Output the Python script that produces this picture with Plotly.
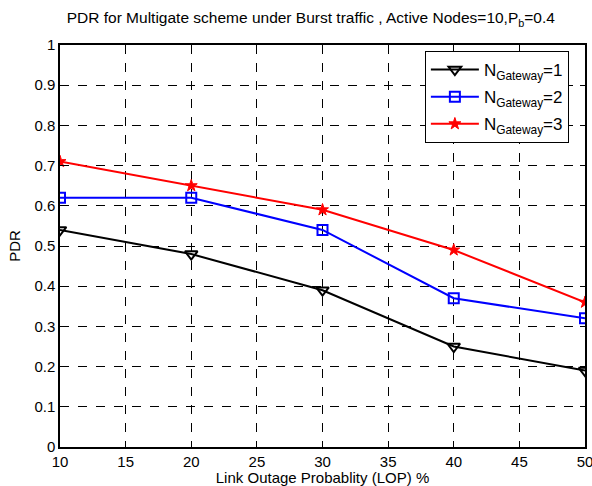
import plotly.graph_objects as go

# Link outage probability (%) and packet delivery ratio per gateway count
lop = [10, 20, 30, 40, 50]
pdr_gw1 = [0.54, 0.48, 0.39, 0.25, 0.19]
pdr_gw2 = [0.62, 0.62, 0.54, 0.37, 0.32]
pdr_gw3 = [0.71, 0.65, 0.59, 0.49, 0.36]

x_ticks = [10, 15, 20, 25, 30, 35, 40, 45, 50]
y_ticks = [0, 0.1, 0.2, 0.3, 0.4, 0.5, 0.6, 0.7, 0.8, 0.9, 1]
y_tick_text = ["0", "0.1", "0.2", "0.3", "0.4", "0.5", "0.6", "0.7", "0.8", "0.9", "1"]

FONT = "Liberation Sans, Arial, sans-serif"

fig = go.Figure()
fig.add_trace(go.Scatter(
    x=lop, y=pdr_gw1, mode="lines+markers", name="N<sub>Gateway</sub>=1",
    legendgroup="g1",
    line=dict(color="black", width=2),
    marker=dict(symbol="triangle-down-open", size=11, color="black", line=dict(width=2)),
))
fig.add_trace(go.Scatter(
    x=lop, y=pdr_gw2, mode="lines+markers", name="N<sub>Gateway</sub>=2",
    legendgroup="g2",
    line=dict(color="#0000ff", width=2),
    marker=dict(symbol="square-open", size=10, color="#0000ff", line=dict(width=2)),
))
fig.add_trace(go.Scatter(
    x=lop, y=pdr_gw3, mode="lines+markers", name="N<sub>Gateway</sub>=3",
    legendgroup="g3",
    line=dict(color="#ff0000", width=2),
    marker=dict(symbol="star", size=9, color="#ff0000", line=dict(width=1, color="#ff0000")),
))

axis_common = dict(
    showline=True, linecolor="black", linewidth=1.5, mirror="allticks",
    ticks="inside", ticklen=5, tickcolor="black",
    showgrid=True, gridcolor="black", gridwidth=1, griddash="dash",
    zeroline=False, tickfont=dict(family=FONT, size=15, color="black"),
    ticklabeloverflow="allow", automargin=False,
)

fig.update_layout(
    width=592, height=486,
    margin=dict(l=60, r=7, t=45, b=39, autoexpand=False),
    paper_bgcolor="white", plot_bgcolor="white",
    title=dict(
        text="PDR for Multigate scheme under Burst traffic , Active Nodes=10,P<sub>b</sub>=0.4",
        font=dict(family=FONT, size=15.5, color="black"),
        x=0.525, xanchor="center", y=0.963, yanchor="middle",
        automargin=False,
    ),
    xaxis=dict(
        range=[10, 50], tickvals=x_ticks,
        title=dict(text="Link Outage Probablity (LOP) %", font=dict(family=FONT, size=15, color="black"), standoff=2),
        **axis_common,
    ),
    yaxis=dict(
        range=[0, 1], tickvals=y_ticks, ticktext=y_tick_text,
        title=dict(text="PDR", font=dict(family=FONT, size=15, color="black"), standoff=10),
        **axis_common,
    ),
    legend=dict(
        x=0.695, y=0.985, xanchor="left", yanchor="top",
        bgcolor="white", bordercolor="black", borderwidth=1,
        font=dict(family=FONT, size=17, color="black"),
        tracegroupgap=2, itemwidth=48,
    ),
    showlegend=True,
)

fig.write_html("out.html")
